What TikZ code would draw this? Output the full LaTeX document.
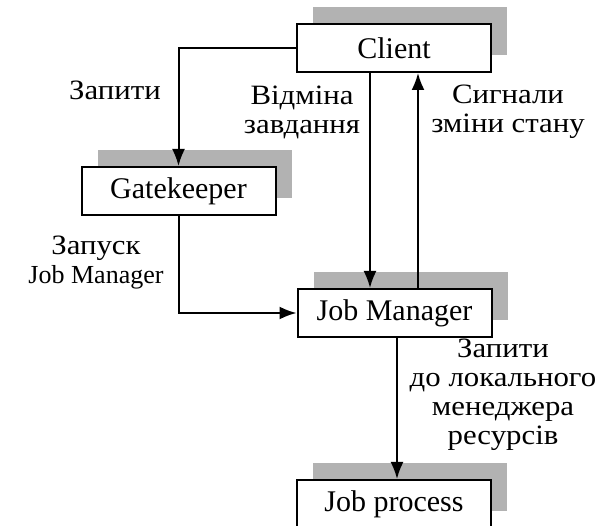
\documentclass[tikz,border=0pt]{standalone}
\usepackage{fontspec}
\setmainfont{Liberation Serif}
\newfontfamily\cyr[FakeStretch=1.1]{Liberation Serif}
\usetikzlibrary{arrows.meta,shadows}

\begin{document}
\begin{tikzpicture}[x=1pt,y=-1pt,
  box/.style={draw=black,line width=2pt,fill=white,
    minimum width=194pt,minimum height=48pt,inner sep=0pt,
    font=\fontsize{30}{30}\selectfont,
    general shadow={fill=black!30,shadow xshift=16pt,shadow yshift=17pt}},
  arr/.style={line width=2pt,-{Latex[length=17pt,width=13pt]}},
  lbl/.style={align=center,inner sep=0pt,font=\cyr\fontsize{28}{29}\selectfont}
]
\clip (0,0) rectangle (600,526);
\useasboundingbox (0,0) rectangle (600,526);

% boxes with offset shadows
\node[box] (client)  at (394,48)  {Client};
\node[box] (gate)    at (178.5,191) {Gatekeeper};
\node[box] (jm)      at (394.5,313) {Job Manager};
\node[box] (proc)    at (394,504) {Job process};

% connectors
\draw[arr] (client.west) -| (gate.north);
\draw[arr] ([xshift=-24pt]client.south) -- ([xshift=-24.5pt]jm.north);
\draw[arr] ([xshift=23.5pt]jm.north) -- ([xshift=24pt]client.south);
\draw[arr] (gate.south) |- (jm.west);
\draw[arr] ([xshift=2.5pt]jm.south) -- ([xshift=3pt]proc.north);

% labels
\node[lbl] (lreq)    at (115,90)  {Запити};
\node[lbl] (lcancel) at (302,112) {Відміна\\завдання};
\node[lbl] (lsig)    at (508,112) {Сигнали\\зміни стану};
\node[lbl] (lstart)  at (96,263)  {Запуск\\{\rmfamily\fontsize{26}{29}\selectfont Job Manager}};
\node[lbl] (llocal)  at (503,395) {Запити\\до локального\\менеджера\\ресурсів};
\end{tikzpicture}
\end{document}
